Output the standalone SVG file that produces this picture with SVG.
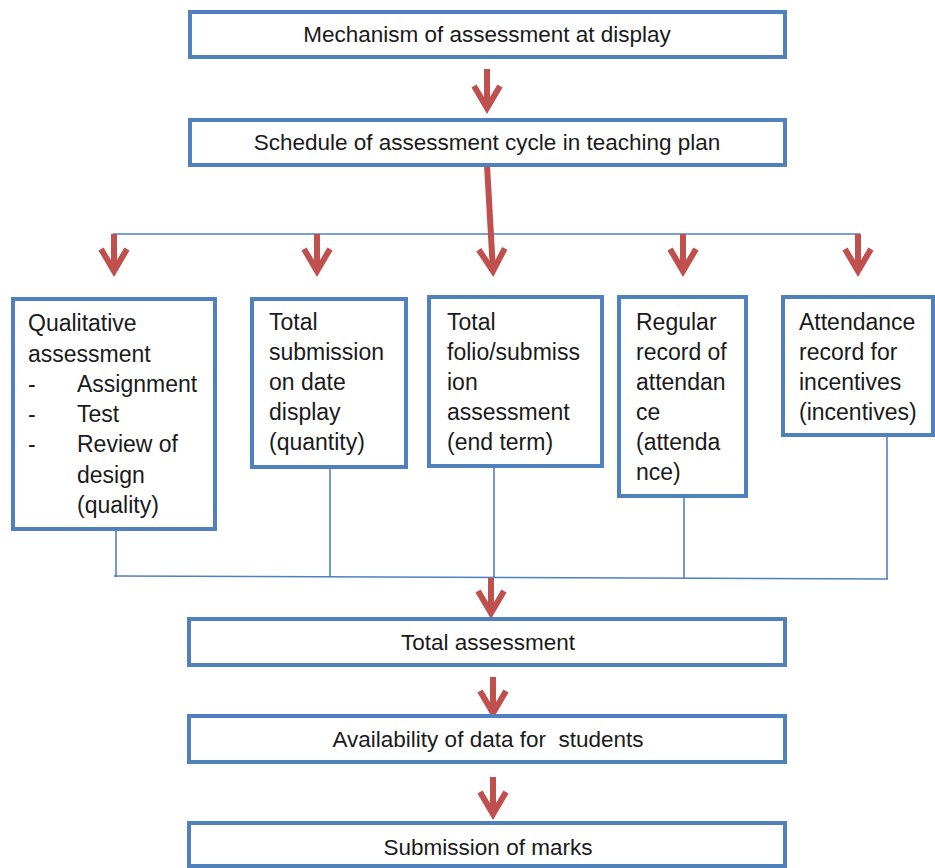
<svg xmlns="http://www.w3.org/2000/svg" width="935" height="868" viewBox="0 0 935 868">
<style>
.box{fill:#fff;stroke:#4f81bd;stroke-width:4}
.t{font-family:"Liberation Sans",Arial,sans-serif;font-size:22.5px;fill:#1a1a1a}
.c{text-anchor:middle}
.s{font-size:23px}
.thin{stroke:#4f81bd;stroke-width:1.6;fill:none}
.red{stroke:#c0504d;fill:none;stroke-width:6}
</style>
<defs>
<marker id="ah" markerUnits="userSpaceOnUse" markerWidth="60" markerHeight="60" viewBox="-30 -30 60 60" refX="0" refY="0" orient="auto" overflow="visible">
<path d="M-22,-13 L0,0 L-22,13" fill="none" stroke="#c0504d" stroke-width="6" stroke-linejoin="miter"/>
</marker>
</defs>
<rect width="935" height="868" fill="#fff"/>
<g id="connectors">
<line class="red" x1="487" y1="69" x2="487" y2="108" marker-end="url(#ah)"/>
<line class="thin" x1="113" y1="234" x2="860" y2="234"/>
<line class="red" x1="114" y1="234" x2="114" y2="271" stroke-width="5" marker-end="url(#ah)"/>
<line class="red" x1="317" y1="234" x2="317" y2="271" stroke-width="5" marker-end="url(#ah)"/>
<line class="red" x1="683" y1="234" x2="683" y2="271" stroke-width="5" marker-end="url(#ah)"/>
<line class="red" x1="858" y1="234" x2="858" y2="271" stroke-width="5" marker-end="url(#ah)"/>
<line class="red" x1="487" y1="165" x2="493" y2="271" stroke-width="5" marker-end="url(#ah)"/>
<line class="thin" x1="116" y1="529" x2="116" y2="577"/>
<line class="thin" x1="330" y1="467" x2="330" y2="577"/>
<line class="thin" x1="494" y1="466" x2="494" y2="578"/>
<line class="thin" x1="684" y1="496" x2="684" y2="578"/>
<line class="thin" x1="887" y1="435" x2="887" y2="579"/>
<line class="thin" x1="114" y1="576" x2="888" y2="579"/>
<line class="red" x1="491" y1="578" x2="491" y2="613" stroke-width="5" marker-end="url(#ah)"/>
<line class="red" x1="493" y1="677" x2="493" y2="713" stroke-width="6" marker-end="url(#ah)"/>
<line class="red" x1="493" y1="777" x2="493" y2="814" stroke-width="6" marker-end="url(#ah)"/>
</g>
<g id="n1"><rect class="box" x="190" y="12" width="595" height="45"/><text class="t c" x="487" y="42">Mechanism of assessment at display</text></g>
<g id="n2"><rect class="box" x="190" y="120" width="595" height="45"/><text class="t c" x="487" y="150">Schedule of assessment cycle in teaching plan</text></g>
<g id="nA"><rect class="box" x="13" y="299" width="202" height="230"/>
<text class="t s" x="28" y="331">Qualitative</text>
<text class="t s" x="28" y="361.5">assessment</text>
<text class="t s" x="28" y="392">-</text><text class="t s" x="77" y="392">Assignment</text>
<text class="t s" x="28" y="422">-</text><text class="t s" x="77" y="422">Test</text>
<text class="t s" x="28" y="452">-</text><text class="t s" x="77" y="452">Review of</text>
<text class="t s" x="77" y="483">design</text>
<text class="t s" x="77" y="513">(quality)</text>
</g>
<g id="nB"><rect class="box" x="252" y="299" width="154" height="168"/>
<text class="t s" x="269" y="330">Total</text>
<text class="t s" x="269" y="360">submission</text>
<text class="t s" x="269" y="390">on date</text>
<text class="t s" x="269" y="420">display</text>
<text class="t s" x="269" y="450">(quantity)</text>
</g>
<g id="nC"><rect class="box" x="429" y="297" width="173" height="169"/>
<text class="t s" x="447" y="330">Total</text>
<text class="t s" x="447" y="360">folio/submiss</text>
<text class="t s" x="447" y="390">ion</text>
<text class="t s" x="447" y="420">assessment</text>
<text class="t s" x="447" y="450">(end term)</text>
</g>
<g id="nD"><rect class="box" x="619" y="297" width="127" height="199"/>
<text class="t s" x="636" y="330">Regular</text>
<text class="t s" x="636" y="360">record of</text>
<text class="t s" x="636" y="390">attendan</text>
<text class="t s" x="636" y="420">ce</text>
<text class="t s" x="636" y="450">(attenda</text>
<text class="t s" x="636" y="480">nce)</text>
</g>
<g id="nE"><rect class="box" x="783" y="297" width="150" height="138"/>
<text class="t s" x="799" y="330">Attendance</text>
<text class="t s" x="799" y="360">record for</text>
<text class="t s" x="799" y="390">incentives</text>
<text class="t s" x="799" y="420">(incentives)</text>
</g>
<g id="n3"><rect class="box" x="189" y="619" width="596" height="46"/><text class="t c" x="488" y="650">Total assessment</text></g>
<g id="n4"><rect class="box" x="189" y="716" width="596" height="46"/><text class="t c" x="488" y="747" xml:space="preserve" style="white-space:pre">Availability of data for  students</text></g>
<g id="n5"><rect class="box" x="189" y="823" width="596" height="43"/><text class="t c" x="488" y="855">Submission of marks</text></g>
</svg>
